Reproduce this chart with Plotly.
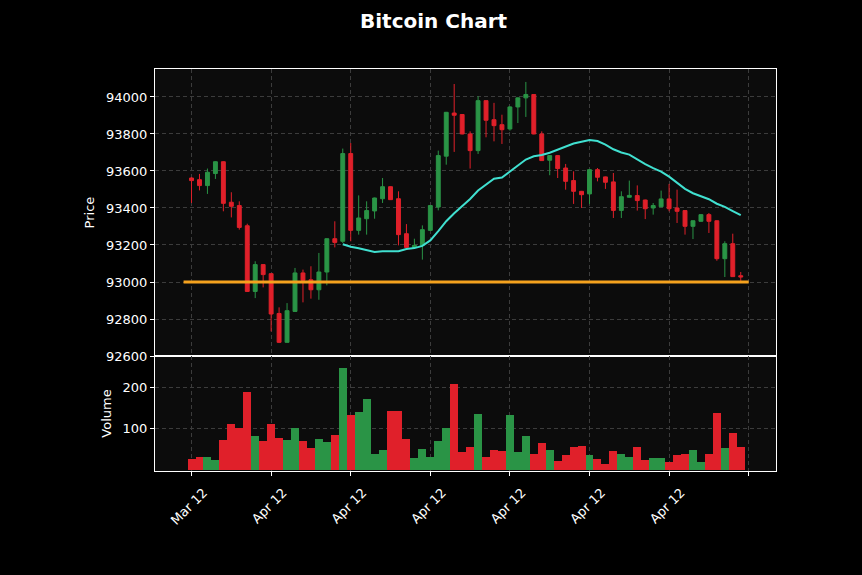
import plotly.graph_objects as go
import pandas as pd

# ---------------- data ----------------
OPEN = [93562, 93553, 93521, 93586, 93650, 93431, 93413, 93304, 92949, 93094,
        93045, 92830, 92674, 92841, 93049, 93012, 92958, 93054, 93234, 93220,
        93694, 93279, 93342, 93384, 93450, 93515, 93450, 93261, 93187, 93198,
        93279, 93405, 93680, 93913, 93905, 93800, 93710, 93980, 93877, 93850,
        93827, 93946, 93995, 94013, 93800, 93658, 93683, 93616, 93548, 93490,
        93476, 93607, 93568, 93541, 93387, 93458, 93467, 93443, 93400, 93407,
        93449, 93400, 93386, 93301, 93328, 93364, 93331, 93126, 93207, 93034]
HIGH = [93566, 93584, 93613, 93652, 93652, 93485, 93436, 93315, 93112, 93096,
        93047, 92863, 92886, 93076, 93067, 93085, 93157, 93236, 93328, 93721,
        93751, 93468, 93436, 93456, 93562, 93517, 93490, 93313, 93234, 93306,
        93415, 93710, 93919, 94070, 93907, 93814, 94004, 93982, 93968, 93904,
        93950, 93997, 94081, 94015, 93814, 93685, 93685, 93638, 93598, 93492,
        93609, 93616, 93570, 93589, 93490, 93548, 93522, 93445, 93427, 93494,
        93530, 93499, 93388, 93333, 93366, 93373, 93333, 93220, 93261, 93054]
LOW = [93427, 93495, 93476, 93557, 93382, 93349, 93283, 92947, 92913, 92971,
       92733, 92670, 92672, 92838, 92890, 92910, 92904, 92982, 93187, 93211,
       93220, 93256, 93256, 93342, 93427, 93443, 93198, 93187, 93180, 93121,
       93277, 93387, 93634, 93703, 93798, 93613, 93692, 93782, 93760, 93746,
       93818, 93859, 93892, 93798, 93654, 93577, 93562, 93499, 93422, 93400,
       93422, 93544, 93503, 93346, 93346, 93456, 93386, 93340, 93364, 93404,
       93382, 93319, 93256, 93232, 93326, 93265, 93115, 93027, 93027, 93003]
CLOSE = [93548, 93521, 93593, 93650, 93425, 93409, 93295, 92949, 93094, 93040,
         92827, 92674, 92845, 93049, 93009, 92958, 93054, 93234, 93214, 93694,
         93279, 93346, 93386, 93454, 93515, 93445, 93256, 93187, 93198, 93283,
         93413, 93683, 93917, 93901, 93800, 93710, 93980, 93874, 93845, 93823,
         93946, 93995, 94013, 93800, 93656, 93683, 93613, 93544, 93490, 93472,
         93607, 93566, 93539, 93387, 93461, 93468, 93440, 93396, 93413, 93449,
         93396, 93382, 93301, 93331, 93364, 93328, 93126, 93207, 93029, 93027]
VOLUME = [26, 30, 30, 24, 72, 111, 102, 189, 81, 69,
          111, 76, 72, 101, 69, 53, 74, 67, 85, 246,
          132, 141, 171, 39, 48, 143, 143, 74, 28, 51,
          32, 69, 101, 208, 44, 55, 136, 32, 48, 46,
          134, 44, 83, 37, 65, 48, 21, 35, 55, 57,
          35, 25, 14, 46, 37, 32, 54, 23, 28, 28,
          18, 35, 37, 48, 18, 37, 138, 53, 88, 55]
TICK_POS = [0, 10, 20, 30, 40, 50, 60, 70]
TICK_LABELS = ["Mar 12", "Apr 12", "Apr 12", "Apr 12", "Apr 12", "Apr 12", "Apr 12", ""]
PRICE_TICKS = [92600, 92800, 93000, 93200, 93400, 93600, 93800, 94000]
VOLUME_TICKS = [100, 200]
HLINE_LEVEL = 93000
MAV = 20

# ---------------- styling ----------------
GREEN = "#2a9446"
RED = "#e0202a"
MA_COLOR = "#40e0d0"
HLINE_COLOR = "#f5a21e"
GRID = "#3c3c3c"
FONT = "DejaVu Sans"

idx = list(range(len(CLOSE)))
ma = pd.Series(CLOSE).rolling(MAV).mean()
vol_colors = [GREEN if c >= o else RED for o, c in zip(OPEN, CLOSE)]

fig = go.Figure()
fig.add_trace(go.Candlestick(
    x=idx, open=OPEN, high=HIGH, low=LOW, close=CLOSE,
    increasing=dict(line=dict(color=GREEN, width=1), fillcolor=GREEN),
    decreasing=dict(line=dict(color=RED, width=1), fillcolor=RED),
    whiskerwidth=0, xaxis="x", yaxis="y", showlegend=False, hoverinfo="skip"))
fig.add_trace(go.Scatter(
    x=idx, y=ma, mode="lines", line=dict(color=MA_COLOR, width=2),
    xaxis="x", yaxis="y", showlegend=False, hoverinfo="skip"))
fig.add_trace(go.Scatter(
    x=[idx[0] - 1, idx[-1] + 1], y=[HLINE_LEVEL, HLINE_LEVEL], mode="lines",
    line=dict(color=HLINE_COLOR, width=3),
    xaxis="x", yaxis="y", showlegend=False, hoverinfo="skip"))
fig.add_trace(go.Bar(
    x=idx, y=VOLUME, marker=dict(color=vol_colors, line=dict(width=0)),
    width=1.0, xaxis="x2", yaxis="y2", showlegend=False, hoverinfo="skip"))

xrange = [-4.59, 73.43]
split = 0.286
common_axis = dict(showline=True, linecolor="white", linewidth=1, mirror=True,
                   showgrid=True, gridcolor=GRID, griddash="4px,3px", gridwidth=1,
                   zeroline=False, tickfont=dict(color="white", size=13, family=FONT))

fig.update_layout(
    width=862, height=575,
    margin=dict(l=155, r=86, t=69, b=104),
    paper_bgcolor="black", plot_bgcolor="#0c0c0c",
    font=dict(family=FONT, color="white", size=13),
    title=dict(text="<b>Bitcoin Chart</b>", x=0.503, xref="container", xanchor="center",
               y=0.963, yanchor="middle", font=dict(size=20, color="white", family=FONT)),
    bargap=0,
    xaxis=dict(domain=[0, 1], anchor="y", range=xrange, tickvals=TICK_POS,
               showticklabels=False, ticks="", rangeslider=dict(visible=False),
               **common_axis),
    yaxis=dict(domain=[split, 1], anchor="x", range=[92600, 94151], tickvals=PRICE_TICKS,
               tickformat="d", ticks="outside", ticklen=4, tickcolor="white",
               title=dict(text="Price", standoff=8, font=dict(size=13, color="white")),
               **common_axis),
    xaxis2=dict(domain=[0, 1], anchor="y2", range=xrange, matches="x", tickvals=TICK_POS,
                ticktext=TICK_LABELS, tickangle=-45, ticks="outside", ticklen=4,
                tickcolor="white", ticklabelshift=12, ticklabelstandoff=4,
                **common_axis),
    yaxis2=dict(domain=[0, split], anchor="x2", range=[-3, 276], tickvals=VOLUME_TICKS,
                tickformat="d", ticks="outside", ticklen=4, tickcolor="white",
                title=dict(text="Volume", standoff=8, font=dict(size=13, color="white")),
                **common_axis),
)

fig.write_html(
    "out.html",
    config={"displayModeBar": False},
    post_script="document.body.style.margin='0';document.body.style.background='black';",
)
